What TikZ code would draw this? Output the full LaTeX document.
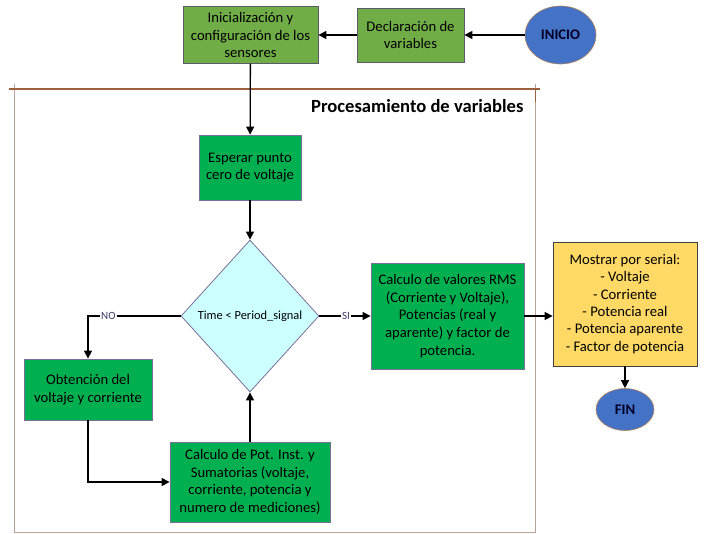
\documentclass[tikz,border=0pt]{standalone}
\usepackage{fontspec}
\setmainfont{Carlito}
\usepackage{xcolor}
\usepackage{tikz}
\usetikzlibrary{arrows.meta}
\usetikzlibrary{shapes.geometric}

\definecolor{oliveFill}{HTML}{70AD47}
\definecolor{oliveLine}{HTML}{5B5B6B}
\definecolor{greenFill}{HTML}{00B050}
\definecolor{greenLine}{HTML}{7A6E9A}
\definecolor{cyanFill}{HTML}{CCFFFF}
\definecolor{goldFill}{HTML}{FFD966}
\definecolor{blueFill}{HTML}{4472C4}
\definecolor{blueLine}{HTML}{B88560}
\definecolor{frameTop}{HTML}{9C6240}
\definecolor{frameSide}{HTML}{B8A398}
\definecolor{lblText}{HTML}{3C3C6E}

\begin{document}
\begin{tikzpicture}[x=1pt,y=-1pt,
  font=\fontsize{14.67}{17.6}\selectfont,
  olivebox/.style={draw=oliveLine, fill=oliveFill, line width=0.8pt, align=center, inner sep=0pt},
  greenbox/.style={draw=greenLine, fill=greenFill, line width=0.8pt, align=center, inner sep=0pt},
  endpoint/.style={ellipse, draw=blueLine, fill=blueFill, line width=0.6pt, inner sep=0pt, text=black!85!blue, font=\bfseries\fontsize{14.67}{17.6}\selectfont},
  flow/.style={-{Triangle[length=8pt,width=8pt]}, line width=1.3pt},
  branch/.style={fill=white, inner sep=1pt, text=lblText, font=\fontsize{11}{13}\selectfont}
]
\useasboundingbox (0,0) rectangle (714,533);

% marco del bloque de procesamiento
\draw[frameSide, line width=1pt] (14,84) -- (14,532) -- (535,532) -- (535,84);
\draw[frameTop, line width=1.6pt] (9,89) -- (540,89);
\draw[frameTop, line width=1pt] (535,89) -- (535,102);
\node[anchor=east, font=\bfseries\fontsize{18.6}{22}\selectfont] (titulo) at (527,106) {Procesamiento de variables};

% parte superior
\node[endpoint, minimum width=71pt, minimum height=58pt] (inicio) at (560.5,35) {INICIO};
\node[olivebox, minimum width=107pt, minimum height=54pt] (decl) at (410.5,35) {Declaración de\\variables};
\node[olivebox, minimum width=135pt, minimum height=57pt] (init) at (250.5,35) {Inicialización y\\configuración de los\\sensores};

% bucle de muestreo
\node[greenbox, minimum width=102pt, minimum height=65pt] (espera) at (250,167.5) {Esperar punto\\cero de voltaje};
\node[diamond, draw=greenLine, fill=cyanFill, line width=0.8pt, inner sep=0pt, aspect=0.908,
  minimum width=138pt, minimum height=152pt, font=\fontsize{12.4}{14}\selectfont] (cond) at (250,316) {Time \textless{} Period\_signal};
\node[greenbox, minimum width=128pt, minimum height=61pt] (obt) at (88,389.5) {Obtención del\\voltaje y corriente};
\node[greenbox, minimum width=160pt, minimum height=80pt] (pot) at (250,482) {Calculo de Pot. Inst. y\\Sumatorias (voltaje,\\corriente, potencia y\\numero de mediciones)};
\node[greenbox, minimum width=153pt, minimum height=106pt] (rms) at (447.5,316) {Calculo de valores RMS\\(Corriente y Voltaje),\\Potencias (real y\\aparente) y factor de\\potencia.};

% salida
\node[draw=black!75, fill=goldFill, line width=0.8pt, align=center, inner sep=0pt,
  minimum width=144pt, minimum height=124pt, font=\fontsize{14.67}{17.3}\selectfont] (mostrar) at (625,304)
  {Mostrar por serial:\\- Voltaje\\- Corriente\\- Potencia real\\- Potencia aparente\\- Factor de potencia};
\node[endpoint, minimum width=58pt, minimum height=42pt] (fin) at (625,409.5) {FIN};

% conexiones
\draw[flow] (inicio) -- (decl);
\draw[flow] (decl) -- (init);
\draw[flow] (init) -- (espera);
\draw[flow] (espera) -- (cond);
\draw[flow] (cond.west) -| node[branch, pos=0.39] {NO} (obt.north);
\draw[flow] (obt.south) |- (pot.west);
\draw[flow] (pot) -- (cond);
\draw[flow] (cond.east) -- node[branch, pos=0.52] {SI} (rms.west);
\draw[flow] (rms.east) -- (rms.east -| mostrar.west);
\draw[flow] (mostrar) -- (fin);
\end{tikzpicture}
\end{document}
